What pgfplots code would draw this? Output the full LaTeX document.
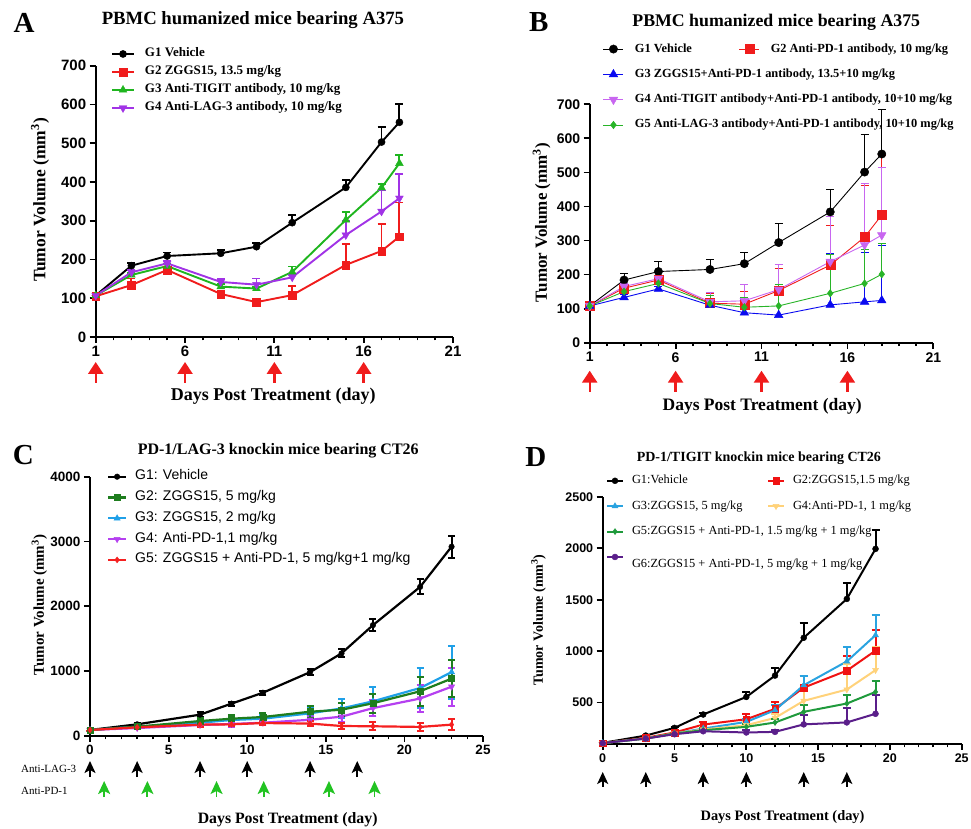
\documentclass[border=0pt]{standalone}
\usepackage{fontspec}
\setmainfont{Liberation Serif}
\setsansfont{Liberation Sans}
\usepackage{pgfplots}
\usepackage{pgfplotstable}
\pgfplotsset{compat=1.18}
\usetikzlibrary{arrows.meta}

\definecolor{aRed}{HTML}{F01C1C}
\definecolor{aGreen}{HTML}{1FB51F}
\definecolor{aPurple}{HTML}{A133E6}
\definecolor{bBlue}{HTML}{0A0AF0}
\definecolor{bPink}{HTML}{C866F0}
\definecolor{bGreen}{HTML}{28B428}
\definecolor{cGreen}{HTML}{1E7D1E}
\definecolor{cBlue}{HTML}{1FA0E8}
\definecolor{cPurple}{HTML}{B540F0}
\definecolor{cRed}{HTML}{F52020}
\definecolor{dRed}{HTML}{F01212}
\definecolor{dBlue}{HTML}{2AA3E0}
\definecolor{dYellow}{HTML}{FFD27A}
\definecolor{dGreen}{HTML}{1F9A3C}
\definecolor{dPurple}{HTML}{5A1E8A}
\definecolor{arrGreen}{HTML}{22C322}

% A: PBMC mice, single agents
\pgfplotstableread{
d g1 e1 g2 e2 g3 e3 g4 e4
1 107 0 105 0 107 0 107 0
3 184 6 134 17 160 5 167 5
5 209 9 173 5 183 6 190 5
8 216 8 111 6 130 6 142 8
10 233 9 90 6 125 5 135 16
12 295 19 108 23 168 14 154 8
15 386 19 186 54 302 20 263 36
17 503 38 222 70 385 10 324 54
18 554 47 259 88 448 22 358 63
}\tabA

% B: PBMC mice, combinations
\pgfplotstableread{
d g1 e1 g2 e2 g3 e3 g4 e4 g5 e5
1 108 0 108 0 108 0 108 0 108 0
3 184 20 160 8 133 8 165 8 150 8
5 209 30 184 6 158 8 188 6 174 6
8 215 28 116 29 110 20 120 27 115 25
10 232 32 113 36 88 40 123 48 104 30
12 294 57 153 66 81 70 156 74 108 62
15 384 65 228 117 111 150 238 132 145 115
17 501 111 310 151 120 144 287 181 174 100
18 554 132 375 176 124 161 316 199 201 90
}\tabB

% C: PD-1/LAG-3 knockin
\pgfplotstableread{
d g1 e1 g2 e2 g3 e3 g4 e4 g5 e5
0 93 20 93 20 93 20 93 20 93 20
3 180 25 144 20 144 20 123 20 134 20
7 329 40 231 40 205 40 170 30 175 30
9 499 30 267 50 247 50 185 40 180 30
11 668 30 293 60 267 60 205 40 200 30
14 985 50 375 90 350 100 250 60 192 40
16 1275 60 405 100 425 140 298 80 154 40
18 1710 90 505 150 535 220 430 120 150 60
21 2300 115 690 220 740 310 578 210 140 65
23 2920 170 885 285 985 410 760 295 175 90
}\tabC

% D: PD-1/TIGIT knockin
\pgfplotstableread{
d g1 e1 g2 e2 g3 e3 g4 e4 g5 e5 g6 e6
0 107 0 105 0 105 0 105 0 105 0 105 0
3 178 10 156 10 149 10 149 10 149 10 149 10
5 253 10 208 15 198 10 198 10 198 10 191 10
7 383 10 285 25 246 20 237 20 230 20 220 15
10 554 50 337 55 311 30 279 30 263 30 208 20
12 762 70 438 68 425 50 350 40 305 30 214 20
14 1130 140 645 110 668 90 516 135 409 65 287 90
17 1508 158 810 140 900 140 626 250 490 80 306 136
19 1995 185 1005 205 1155 195 815 225 603 103 390 181
}\tabD

\pgfplotsset{
  panel/.style={
    scale only axis, anchor=south west, clip=false,
    axis lines*=left, tick align=outside,
    axis line style={line width=2.2pt},
    major tick length=6pt, minor tick length=3.5pt,
    every tick/.append style={black, line width=1.8pt},
    every minor tick/.append style={black, line width=1.5pt},
    every axis title shift=0pt,
    /pgf/number format/assume math mode=true,
    /pgf/number format/1000 sep={},
    legend cell align=left,
    legend style={draw=none, fill=none, inner sep=0pt, outer sep=0pt,
      nodes={inner sep=0pt, text height=10pt, text depth=4pt}},
  },
  eplus/.style={error bars/y dir=plus, error bars/y explicit,
    error bars/error bar style={line width=#1},
    error bars/error mark options={rotate=90, line width=#1, mark size=4pt}},
  eboth/.style={error bars/y dir=both, error bars/y explicit,
    error bars/error bar style={line width=#1},
    error bars/error mark options={rotate=90, line width=#1, mark size=3.5pt}},
}

\begin{document}
\begin{tikzpicture}
\useasboundingbox (0,0) rectangle (971pt,829pt);

%% ---------- A ----------
\begin{axis}[panel, at={(95.7pt,492pt)}, width=357.3pt, height=271.3pt,
  xmin=1, xmax=21, ymin=0, ymax=700,
  xtick={1,6,11,16,21}, minor x tick num=4, ytick distance=100,
  tick label style={font=\sffamily\bfseries\fontsize{15}{16}\selectfont},
  title={PBMC humanized mice bearing A375},
  title style={at={(axis description cs:0.440,1.168)}, anchor=center, font=\bfseries\fontsize{18.7}{20}\selectfont},
  xlabel={Days Post Treatment (day)},
  xlabel style={at={(axis description cs:0.497,-0.220)}, anchor=center, font=\bfseries\fontsize{18}{20}\selectfont},
  ylabel={Tumor Volume (mm\textsuperscript{3})},
  ylabel style={at={(axis description cs:-0.156,0.505)}, anchor=center, font=\bfseries\fontsize{17.5}{20}\selectfont},
  legend style={at={(axis description cs:0.043,1.069)}, anchor=north west, row sep=4pt,
    font=\bfseries\fontsize{13}{14}\selectfont,
    /tikz/every odd column/.append style={column sep=10pt}},
  legend image code/.code={\draw[mark repeat=2,mark phase=2] plot coordinates {(0pt,0pt)(11pt,0pt)(22pt,0pt)};},
]
\addplot[black, line width=1.9pt, mark=*, mark size=3.6pt, mark options={solid,line width=0.4pt}, eplus=1.9pt]
  table[x=d, y=g1, y error=e1] {\tabA};
\addlegendentry{G1 Vehicle}
\addplot[aRed, line width=1.9pt, mark=square*, mark size=3.8pt, mark options={solid,line width=0.4pt}, eplus=1.9pt]
  table[x=d, y=g2, y error=e2] {\tabA};
\addlegendentry{G2 ZGGS15, 13.5 mg/kg}
\addplot[aGreen, line width=1.9pt, mark=triangle*, mark size=4.5pt, mark options={solid,line width=0.4pt}, eplus=1.9pt]
  table[x=d, y=g3, y error=e3] {\tabA};
\addlegendentry{G3 Anti-TIGIT antibody, 10 mg/kg}
\addplot[aPurple, line width=1.9pt, mark=triangle*, mark size=4.5pt, mark options={solid,line width=0.4pt,rotate=180}, eplus=1.9pt]
  table[x=d, y=g4, y error=e4] {\tabA};
\addlegendentry{G4 Anti-LAG-3 antibody, 10 mg/kg}
\pgfplotsinvokeforeach{1,6,11,16}{
  \draw[aRed, line width=2.4pt, -{Triangle[width=15pt,length=12pt]}]
    ([yshift=-46pt]axis cs:#1,0) -- ([yshift=-25pt]axis cs:#1,0);
}
\end{axis}

%% ---------- B ----------
\begin{axis}[panel, at={(589.7pt,486.3pt)}, width=343.6pt, height=238.4pt,
  xmin=1, xmax=21, ymin=0, ymax=700,
  xtick={1,6,11,16,21}, minor x tick num=4, ytick distance=100,
  tick label style={font=\sffamily\bfseries\fontsize{14}{15}\selectfont},
  title={PBMC humanized mice bearing A375},
  title style={at={(axis description cs:0.543,1.346)}, anchor=center, font=\bfseries\fontsize{17.8}{20}\selectfont},
  xlabel={Days Post Treatment (day)},
  xlabel style={at={(axis description cs:0.502,-0.268)}, anchor=center, font=\bfseries\fontsize{17.5}{20}\selectfont},
  ylabel={Tumor Volume (mm\textsuperscript{3})},
  ylabel style={at={(axis description cs:-0.140,0.504)}, anchor=center, font=\bfseries\fontsize{17}{20}\selectfont},
  legend columns=2,
  legend style={at={(axis description cs:0.0387,1.261)}, anchor=north west, row sep=11.3pt,
    font=\bfseries\fontsize{12.4}{14}\selectfont,
    /tikz/every odd column/.append style={column sep=11pt}},
  legend image code/.code={\draw[mark repeat=2,mark phase=2] plot coordinates {(0pt,0pt)(10pt,0pt)(20pt,0pt)};},
]
\addplot[black, line width=0.9pt, mark=*, mark size=4.2pt, mark options={solid,line width=0.4pt}, eplus=0.9pt]
  table[x=d, y=g1, y error=e1] {\tabB};
\addlegendentry{\makebox[104pt][l]{G1 Vehicle}}
\addplot[aRed, line width=0.9pt, mark=square*, mark size=4.5pt, mark options={solid,line width=0.4pt}, eplus=0.9pt]
  table[x=d, y=g2, y error=e2] {\tabB};
\addlegendentry{G2 Anti-PD-1 antibody, 10 mg/kg}
\addplot[bBlue, line width=0.9pt, mark=triangle*, mark size=5pt, mark options={solid,line width=0.4pt}, eplus=0.9pt]
  table[x=d, y=g3, y error=e3] {\tabB};
\addlegendentry{\makebox[104pt][l]{G3 ZGGS15+Anti-PD-1 antibody, 13.5+10 mg/kg}}
\addlegendimage{empty legend}\addlegendentry{}
\addplot[bPink, line width=0.9pt, mark=triangle*, mark size=5pt, mark options={solid,line width=0.4pt,rotate=180}, eplus=0.9pt]
  table[x=d, y=g4, y error=e4] {\tabB};
\addlegendentry{\makebox[104pt][l]{G4 Anti-TIGIT antibody+Anti-PD-1 antibody, 10+10 mg/kg}}
\addlegendimage{empty legend}\addlegendentry{}
\addplot[bGreen, line width=0.9pt, mark=diamond*, mark size=3.8pt, mark options={solid,line width=0.4pt}, eplus=0.9pt]
  table[x=d, y=g5, y error=e5] {\tabB};
\addlegendentry{\makebox[104pt][l]{G5 Anti-LAG-3 antibody+Anti-PD-1 antibody, 10+10 mg/kg}}
\addlegendimage{empty legend}\addlegendentry{}
\pgfplotsinvokeforeach{1,6,11,16}{
  \draw[aRed, line width=2.4pt, -{Triangle[width=15pt,length=12pt]}]
    ([yshift=-49pt]axis cs:#1,0) -- ([yshift=-28pt]axis cs:#1,0);
}
\end{axis}

%% ---------- C ----------
\begin{axis}[panel, at={(90pt,93pt)}, width=393pt, height=259.3pt,
  xmin=0, xmax=25, ymin=0, ymax=4000,
  xtick={0,5,...,25}, minor x tick num=4, ytick={0,1000,2000,3000,4000},
  tick label style={font=\sffamily\bfseries\fontsize{13.5}{14}\selectfont},
  title={PD-1/LAG-3 knockin mice bearing CT26},
  title style={at={(axis description cs:0.479,1.100)}, anchor=center, font=\bfseries\fontsize{16}{18}\selectfont},
  xlabel={Days Post Treatment (day)},
  xlabel style={at={(axis description cs:0.503,-0.324)}, anchor=center, font=\bfseries\fontsize{15.8}{18}\selectfont},
  ylabel={Tumor Volume (mm\textsuperscript{3})},
  ylabel style={at={(axis description cs:-0.129,0.505)}, anchor=center, font=\bfseries\fontsize{15}{18}\selectfont},
  legend style={at={(axis description cs:0.0433,1.027)}, anchor=north west, row sep=6.8pt,
    font=\sffamily\fontsize{14}{15}\selectfont,
    /tikz/every odd column/.append style={column sep=8pt}},
  legend image code/.code={\draw[mark repeat=2,mark phase=2] plot coordinates {(0pt,0pt)(9pt,0pt)(18pt,0pt)};},
]
\addplot[black, line width=2.2pt, mark=*, mark size=2.8pt, mark options={solid,line width=0.4pt}, eboth=2pt]
  table[x=d, y=g1, y error=e1] {\tabC};
\addlegendentry{G1: Vehicle}
\addplot[cBlue, line width=2.2pt, mark=triangle*, mark size=3.6pt, mark options={solid,line width=0.4pt}, eboth=2pt, forget plot]
  table[x=d, y=g3, y error=e3] {\tabC};
\addplot[cPurple, line width=2.2pt, mark=triangle*, mark size=3.6pt, mark options={solid,line width=0.4pt,rotate=180}, eboth=2pt, forget plot]
  table[x=d, y=g4, y error=e4] {\tabC};
\addplot[cGreen, line width=2.2pt, mark=square*, mark size=3pt, mark options={solid,line width=0.4pt}, eboth=2pt]
  table[x=d, y=g2, y error=e2] {\tabC};
\addlegendentry{G2: ZGGS15, 5 mg/kg}
\addlegendimage{cBlue, line width=2.2pt, mark=triangle*, mark size=3.6pt, mark options={solid,line width=0.4pt}}
\addlegendentry{G3: ZGGS15, 2 mg/kg}
\addlegendimage{cPurple, line width=2.2pt, mark=triangle*, mark size=3.6pt, mark options={solid,line width=0.4pt,rotate=180}}
\addlegendentry{G4: Anti-PD-1,1 mg/kg}
\addplot[cRed, line width=2.2pt, mark=diamond*, mark size=3pt, mark options={solid,line width=0.4pt}, eboth=2pt]
  table[x=d, y=g5, y error=e5] {\tabC};
\addlegendentry{G5: ZGGS15 + Anti-PD-1, 5 mg/kg+1 mg/kg}
\pgfplotsinvokeforeach{0,3,7,10,14,17}{
  \draw[black, line width=1.8pt, -{Stealth[width=11pt,length=12pt,inset=3pt]}]
    ([yshift=-41pt]axis cs:#1,0) -- ([yshift=-25pt]axis cs:#1,0);
}
\pgfplotsinvokeforeach{0.9,3.65,8.05,11.05,15.2,18.1}{
  \draw[arrGreen, line width=1.8pt, -{Stealth[width=12pt,length=13pt,inset=3pt]}]
    ([yshift=-61pt]axis cs:#1,0) -- ([yshift=-45pt]axis cs:#1,0);
}
\end{axis}

%% ---------- D ----------
\begin{axis}[panel, at={(602.7pt,85pt)}, width=359pt, height=247pt,
  xmin=0, xmax=25, ymin=96, ymax=2500,
  xtick={0,5,...,25}, minor x tick num=4, ytick={500,1000,1500,2000,2500},
  tick label style={font=\sffamily\bfseries\fontsize{12.5}{14}\selectfont},
  title={PD-1/TIGIT knockin mice bearing CT26},
  title style={at={(axis description cs:0.435,1.157)}, anchor=center, font=\bfseries\fontsize{14}{16}\selectfont},
  xlabel={Days Post Treatment (day)},
  xlabel style={at={(axis description cs:0.501,-0.297)}, anchor=center, font=\bfseries\fontsize{14.4}{16}\selectfont},
  ylabel={Tumor Volume (mm\textsuperscript{3})},
  ylabel style={at={(axis description cs:-0.179,0.502)}, anchor=center, font=\bfseries\fontsize{14}{16}\selectfont},
  legend columns=2,
  legend style={at={(axis description cs:0.0092,1.094)}, anchor=north west, row sep=11.4pt,
    font=\fontsize{12.4}{14}\selectfont,
    /tikz/every odd column/.append style={column sep=8pt}},
  legend image code/.code={\draw[mark repeat=2,mark phase=2] plot coordinates {(0pt,0pt)(8pt,0pt)(16pt,0pt)};},
]
\addplot[black, line width=2pt, mark=*, mark size=3pt, mark options={solid,line width=0.4pt}, eplus=2pt]
  table[x=d, y=g1, y error=e1] {\tabD};
\addlegendentry{\makebox[135pt][l]{G1:Vehicle}}
\addplot[dRed, line width=2pt, mark=square*, mark size=3.3pt, mark options={solid,line width=0.4pt}, eplus=2pt]
  table[x=d, y=g2, y error=e2] {\tabD};
\addlegendentry{G2:ZGGS15,1.5 mg/kg}
\addplot[dBlue, line width=2pt, mark=triangle*, mark size=3.5pt, mark options={solid,line width=0.4pt}, eplus=2pt]
  table[x=d, y=g3, y error=e3] {\tabD};
\addlegendentry{\makebox[135pt][l]{G3:ZGGS15, 5 mg/kg}}
\addplot[dYellow, line width=2pt, mark=triangle*, mark size=3.5pt, mark options={solid,line width=0.4pt,rotate=180}, eplus=2pt]
  table[x=d, y=g4, y error=e4] {\tabD};
\addlegendentry{G4:Anti-PD-1, 1 mg/kg}
\addplot[dGreen, line width=2pt, mark=diamond*, mark size=3pt, mark options={solid,line width=0.4pt}, eplus=2pt]
  table[x=d, y=g5, y error=e5] {\tabD};
\addlegendentry{\makebox[135pt][l]{G5:ZGGS15 + Anti-PD-1, 1.5 mg/kg + 1 mg/kg}}
\addlegendimage{empty legend}\addlegendentry{}
\addplot[dPurple, line width=2pt, mark=*, mark size=3pt, mark options={solid,line width=0.4pt}, eplus=2pt]
  table[x=d, y=g6, y error=e6] {\tabD};
\addlegendentry{\makebox[135pt][l]{\raisebox{-8pt}{G6:ZGGS15 + Anti-PD-1, 5 mg/kg + 1 mg/kg}}}
\addlegendimage{empty legend}\addlegendentry{}
\pgfplotsinvokeforeach{0,3,7,10,14,17}{
  \draw[black, line width=1.8pt, -{Stealth[width=11pt,length=12pt,inset=3pt]}]
    ([yshift=-43pt]axis cs:#1,96) -- ([yshift=-28pt]axis cs:#1,96);
}
\end{axis}

%% panel letters and dosing row labels
\node[font=\bfseries\fontsize{29}{30}\selectfont] at (24.2pt,806.5pt) {A};
\node[font=\bfseries\fontsize{29}{30}\selectfont] at (538.8pt,807.3pt) {B};
\node[font=\bfseries\fontsize{29}{30}\selectfont] at (23.3pt,374pt) {C};
\node[font=\bfseries\fontsize{29}{30}\selectfont] at (535.8pt,372.3pt) {D};
\node[anchor=west, inner sep=0pt, font=\fontsize{11}{12}\selectfont] at (21pt,60pt) {Anti-LAG-3};
\node[anchor=west, inner sep=0pt, font=\fontsize{11}{12}\selectfont] at (21pt,38pt) {Anti-PD-1};
\end{tikzpicture}
\end{document}
